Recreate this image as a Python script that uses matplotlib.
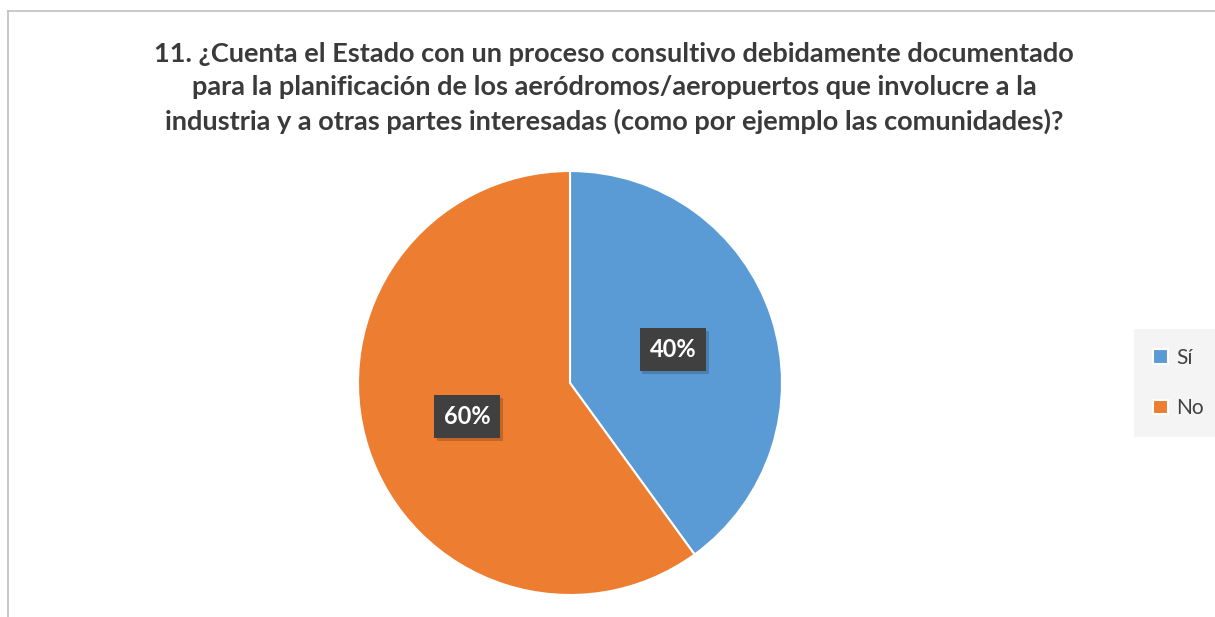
import matplotlib.pyplot as plt
from matplotlib.lines import Line2D
import matplotlib.patheffects as pe

labels = ["Sí", "No"]
values = [40, 60]
colors = ["#5B9BD5", "#ED7D31"]
title = ("11. ¿Cuenta el Estado con un proceso consultivo debidamente documentado\n"
         "para la planificación de los aeródromos/aeropuertos que involucre a la\n"
         "industria y a otras partes interesadas (como por ejemplo las comunidades)?")

plt.rcParams['font.family'] = ['Lato', 'DejaVu Sans']

fig = plt.figure(figsize=(12.15, 6.17), dpi=100)
W, H = 1215, 617

# chart frame (left and top edge visible)
fig.add_artist(Line2D([8 / W, 8 / W], [0, 1 - 11 / H], color="#bfbfbf", lw=1.2))
fig.add_artist(Line2D([8 / W, 1], [1 - 11 / H, 1 - 11 / H], color="#bfbfbf", lw=1.2))

fig.text(614 / W, 1 - 88 / H, title, ha="center", va="center", fontsize=19.5,
         fontweight="bold", color="#3a3a3a", linespacing=1.45)

# pie axes: center (570, 383), radius 212
r = 212
ax = fig.add_axes([(570 - r) / W, 1 - (383 + r) / H, 2 * r / W, 2 * r / H])
wedges, _, autotexts = ax.pie(values, colors=colors, startangle=90, counterclock=False,
                              autopct="%d%%", pctdistance=0.51, radius=1,
                              wedgeprops=dict(edgecolor="white", linewidth=1.5))
ax.set_xlim(-1, 1)
ax.set_ylim(-1, 1)
ax.set_aspect("auto")
for t in autotexts:
    t.set_color("white")
    t.set_fontsize(17)
    t.set_fontweight("bold")
    t.set_bbox(dict(boxstyle="square,pad=0.42", facecolor="#404040", edgecolor="none"))
    t.get_bbox_patch().set_path_effects([
        pe.SimplePatchShadow(offset=(2, -2), shadow_rgbFace="#000000", alpha=0.18), pe.Normal()])

# legend
leg = fig.legend(wedges, labels, loc="center left", bbox_to_anchor=(1130 / W, 1 - 383 / H),
                 frameon=True, fontsize=15, handlelength=0.7, handleheight=0.7,
                 labelspacing=1.45, borderpad=0.6, handletextpad=0.4)
leg.get_frame().set_facecolor("#f2f2f2")
leg.get_frame().set_edgecolor("none")
leg.get_frame().set_boxstyle("square")
for t in leg.get_texts():
    t.set_color("#404040")

fig.savefig("out.png", dpi=100)
